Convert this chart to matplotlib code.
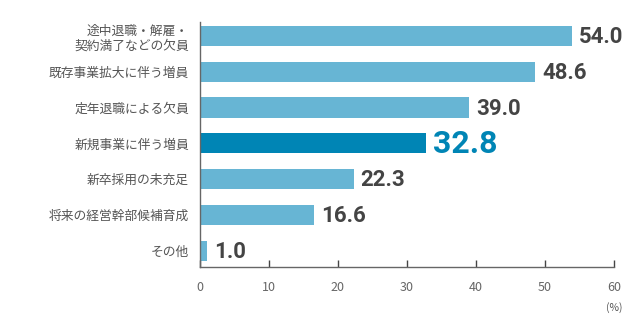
import matplotlib
matplotlib.use("Agg")
import matplotlib.pyplot as plt

categories = [
    "途中退職・解雇・\n契約満了などの欠員",
    "既存事業拡大に伴う増員",
    "定年退職による欠員",
    "新規事業に伴う増員",
    "新卒採用の未充足",
    "将来の経営幹部候補育成",
    "その他",
]
values = [54.0, 48.6, 39.0, 32.8, 22.3, 16.6, 1.0]
highlight = "新規事業に伴う増員"
xticks = [0, 10, 20, 30, 40, 50, 60]

plt.rcParams["font.family"] = ["Noto Sans CJK JP", "DejaVu Sans"]

fig = plt.figure(figsize=(6.4, 3.22), dpi=100)
ax = fig.add_axes([0.3125, 0.171, 0.6465, 0.761])

light, dark = "#67b5d4", "#0085b5"
colors = [dark if c == highlight else light for c in categories]
y = list(range(len(categories)))
ax.barh(y, values, height=0.56, color=colors)

# narrow-ish bold figures for the value labels
num_font = ["Roboto", "DejaVu Sans"]
for yi, v, c in zip(y, values, categories):
    big = c == highlight
    ax.text(v + 1.0, yi + 0.03, f"{v:.1f}", va="center", ha="left",
            fontsize=23 if big else 16, fontweight="bold",
            color=dark if big else "#444444", family=num_font)

ax.set_ylim(6.45, -0.39)
ax.set_xlim(0, 60)
ax.set_yticks(y)
ax.set_yticklabels(categories, fontsize=9.2, color="#555555", linespacing=1.25)
ax.set_xticks(xticks)
ax.set_xticklabels([str(t) for t in xticks], fontsize=9, color="#666666")
ax.tick_params(axis="y", length=0, pad=8)
ax.tick_params(axis="x", direction="in", length=5, width=1, color="#444444", pad=10)

for s in ["top", "right"]:
    ax.spines[s].set_visible(False)
for s in ["left", "bottom"]:
    ax.spines[s].set_color("#666666")
    ax.spines[s].set_linewidth(1)

ax.annotate("(%)", xy=(60, 0), xycoords=("data", "axes fraction"),
            xytext=(0, -25), textcoords="offset points", ha="center", va="top",
            fontsize=7.5, color="#555555")

fig.savefig("out.png", dpi=100)
